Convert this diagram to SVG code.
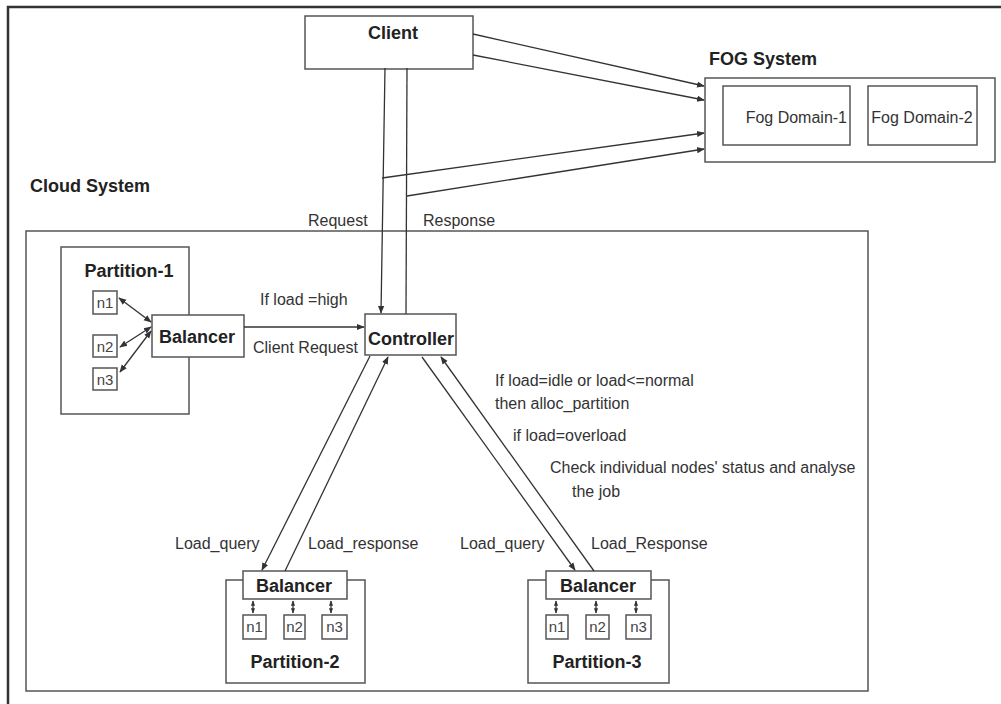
<svg xmlns="http://www.w3.org/2000/svg" width="1001" height="704" viewBox="0 0 1001 704">
<style>
.box{fill:#fff;stroke:#555;stroke-width:1.5}
.b{font-family:"Liberation Sans",Arial,sans-serif;font-weight:bold;font-size:18px;fill:#222}
.t{font-family:"Liberation Sans",Arial,sans-serif;font-size:16px;fill:#333}
.n{font-family:"Liberation Sans",Arial,sans-serif;font-size:15px;fill:#444}
.ln{stroke:#333;stroke-width:1.3;fill:none}
</style>
<defs>
<marker id="ah" viewBox="0 0 10 10" refX="9" refY="5" markerWidth="6" markerHeight="6" orient="auto-start-reverse">
<path d="M0,1 L10,5 L0,9 z" fill="#333"/>
</marker>
<marker id="sm" viewBox="0 0 10 10" refX="9" refY="5" markerWidth="4" markerHeight="4" orient="auto-start-reverse">
<path d="M0,1 L10,5 L0,9 z" fill="#333"/>
</marker>
</defs>
<rect width="1001" height="704" fill="#fff"/>
<path d="M8,704 V7 H1001" fill="none" stroke="#333" stroke-width="2.5"/>

<g id="cloud">
<rect class="box" x="26" y="231" width="842" height="460"/>
<text class="b" x="30" y="192" font-size="17.5">Cloud System</text>
</g>

<g id="client">
<rect class="box" x="305" y="16" width="168" height="53"/>
<text class="b" x="393" y="39" text-anchor="middle" font-size="19">Client</text>
</g>

<g id="fog">
<text class="b" x="709" y="65" font-size="17">FOG System</text>
<rect class="box" x="705" y="78" width="290" height="84"/>
<rect class="box" x="723" y="86" width="127" height="59"/>
<text class="t" x="847" y="123" text-anchor="end" font-size="15.5">Fog Domain-1</text>
<rect class="box" x="868" y="86" width="109" height="59"/>
<text class="t" x="922" y="123" text-anchor="middle" font-size="15.5">Fog Domain-2</text>
</g>

<g id="partition1">
<rect class="box" x="61" y="247" width="128" height="167"/>
<text class="b" x="129" y="277" text-anchor="middle" font-size="19">Partition-1</text>
<rect class="box" x="93" y="291" width="24" height="23"/>
<text class="n" x="105" y="308" text-anchor="middle">n1</text>
<rect class="box" x="93" y="335" width="24" height="22"/>
<text class="n" x="105" y="352" text-anchor="middle">n2</text>
<rect class="box" x="93" y="368" width="24" height="22"/>
<text class="n" x="105" y="385" text-anchor="middle">n3</text>
<rect class="box" x="152" y="315" width="92" height="42"/>
<text class="b" x="197" y="343" text-anchor="middle">Balancer</text>
</g>

<g id="controller">
<rect class="box" x="365" y="314" width="91" height="41"/>
<text class="b" x="411" y="345" text-anchor="middle" font-size="18.5">Controller</text>
</g>

<g id="partition2">
<rect class="box" x="226" y="580" width="139" height="103"/>
<rect class="box" x="243" y="571" width="104" height="28"/>
<text class="b" x="294" y="592" text-anchor="middle">Balancer</text>
<rect class="box" x="243" y="615" width="23" height="24"/>
<text class="n" x="254.5" y="632" text-anchor="middle">n1</text>
<rect class="box" x="284" y="615" width="21" height="24"/>
<text class="n" x="294.5" y="632" text-anchor="middle">n2</text>
<rect class="box" x="322" y="615" width="25" height="24"/>
<text class="n" x="334.5" y="632" text-anchor="middle">n3</text>
<text class="b" x="295" y="668" text-anchor="middle" font-size="19">Partition-2</text>
</g>

<g id="partition3">
<rect class="box" x="528" y="580" width="141" height="103"/>
<rect class="box" x="546" y="571" width="105" height="28"/>
<text class="b" x="598" y="592" text-anchor="middle">Balancer</text>
<rect class="box" x="546" y="615" width="22" height="24"/>
<text class="n" x="557" y="632" text-anchor="middle">n1</text>
<rect class="box" x="586" y="615" width="23" height="24"/>
<text class="n" x="597.5" y="632" text-anchor="middle">n2</text>
<rect class="box" x="626" y="615" width="25" height="24"/>
<text class="n" x="638.5" y="632" text-anchor="middle">n3</text>
<text class="b" x="597" y="668" text-anchor="middle" font-size="19">Partition-3</text>
</g>

<g id="connectors">
<line class="ln" x1="473" y1="34" x2="704" y2="86" marker-end="url(#ah)"/>
<line class="ln" x1="473" y1="55" x2="704" y2="100" marker-end="url(#ah)"/>
<line class="ln" x1="382" y1="178" x2="704" y2="133" marker-end="url(#ah)"/>
<line class="ln" x1="407" y1="196" x2="704" y2="149" marker-end="url(#ah)"/>
<line class="ln" x1="385" y1="68" x2="381" y2="313" marker-end="url(#ah)"/>
<line class="ln" x1="407" y1="68" x2="406" y2="314"/>
<line class="ln" x1="244" y1="327" x2="364" y2="327" marker-end="url(#ah)"/>
<line class="ln" x1="119" y1="298" x2="151" y2="322" marker-start="url(#ah)" marker-end="url(#ah)"/>
<line class="ln" x1="120" y1="347" x2="151" y2="327" marker-start="url(#ah)" marker-end="url(#ah)"/>
<line class="ln" x1="120" y1="372" x2="151" y2="331" marker-start="url(#ah)" marker-end="url(#ah)"/>
<line class="ln" x1="370" y1="356" x2="262" y2="570" marker-end="url(#ah)"/>
<line class="ln" x1="285" y1="571" x2="388" y2="357" marker-end="url(#ah)"/>
<line class="ln" x1="422" y1="357" x2="575" y2="570" marker-end="url(#ah)"/>
<line class="ln" x1="594" y1="571" x2="441" y2="357" marker-end="url(#ah)"/>
<line class="ln" x1="253" y1="601" x2="253" y2="613" marker-start="url(#sm)" marker-end="url(#sm)"/>
<line class="ln" x1="293" y1="601" x2="293" y2="613" marker-start="url(#sm)" marker-end="url(#sm)"/>
<line class="ln" x1="331" y1="601" x2="331" y2="613" marker-start="url(#sm)" marker-end="url(#sm)"/>
<line class="ln" x1="556" y1="601" x2="556" y2="613" marker-start="url(#sm)" marker-end="url(#sm)"/>
<line class="ln" x1="596" y1="601" x2="596" y2="613" marker-start="url(#sm)" marker-end="url(#sm)"/>
<line class="ln" x1="636" y1="601" x2="636" y2="613" marker-start="url(#sm)" marker-end="url(#sm)"/>
</g>

<g id="labels">
<text class="t" x="308" y="226">Request</text>
<text class="t" x="423" y="226">Response</text>
<text class="t" x="260" y="305">If load =high</text>
<text class="t" x="253" y="353">Client Request</text>
<text class="t" x="495" y="386">If load=idle or load&lt;=normal</text>
<text class="t" x="495" y="409">then alloc_partition</text>
<text class="t" x="513" y="441">if load=overload</text>
<text class="t" x="550" y="473">Check individual nodes' status and analyse</text>
<text class="t" x="572" y="497">the job</text>
<text class="t" x="175" y="549">Load_query</text>
<text class="t" x="308" y="549">Load_response</text>
<text class="t" x="460" y="549">Load_query</text>
<text class="t" x="591" y="549">Load_Response</text>
</g>
</svg>
